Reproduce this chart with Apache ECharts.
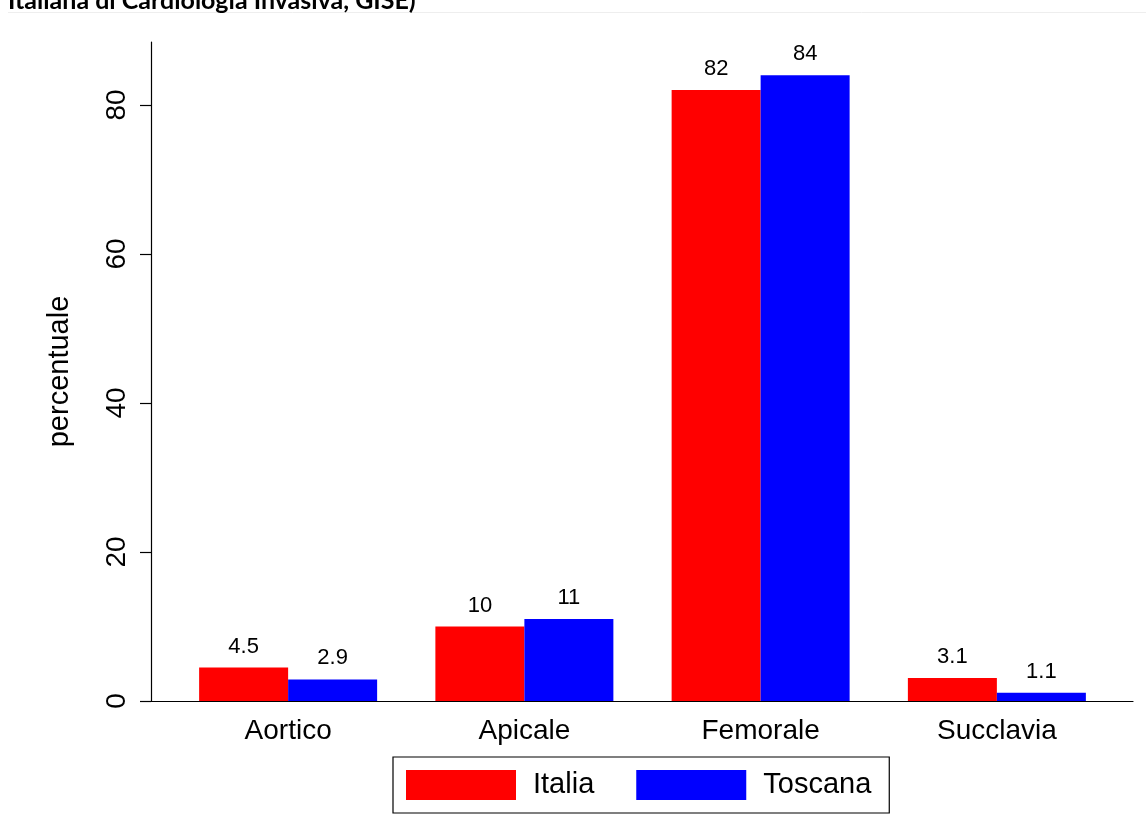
<!DOCTYPE html>
<html>
<head>
<meta charset="utf-8">
<script src="https://cdn.jsdelivr.net/npm/echarts@6/dist/echarts.min.js"></script>
<style>
  html, body { margin: 0; padding: 0; background: #fff; }
  #chart { width: 1146px; height: 840px; }
</style>
</head>
<body>
<div id="chart"></div>
<script>
// Accesso utilizzato per TAVI: Italia vs Toscana (percentuali)
const categories = ['Aortico', 'Apicale', 'Femorale', 'Succlavia'];
const italia = [4.5, 10, 82, 3.1];
const toscana = [2.9, 11, 84, 1.1];
const yTicks = [0, 20, 40, 60, 80];
const titleText = 'Italiana di Cardiologia Invasiva, GISE)';

const FONT = '"Liberation Sans", Arial, Helvetica, sans-serif';

const chart = echarts.init(document.getElementById('chart'), null, { renderer: 'canvas' });

const barLabel = {
  show: true,
  position: 'top',
  distance: 10,
  color: '#000',
  fontFamily: FONT,
  fontSize: 22
};

chart.setOption({
  backgroundColor: '#fff',
  animation: false,
  title: {
    text: titleText,
    left: 2,
    top: -12,
    padding: [0, 0, 0, 6],
    textStyle: { fontFamily: 'Lato, "Open Sans", sans-serif', fontWeight: 'bold', fontSize: 25, color: '#000' }
  },
  graphic: [{
    type: 'line',
    shape: { x1: 8, y1: 12.5, x2: 1146, y2: 12.5 },
    style: { stroke: '#eeeeee', lineWidth: 1 }
  }],
  legend: {
    data: ['Italia', 'Toscana'],
    left: 393,
    top: 757,
    orient: 'horizontal',
    padding: [13, 18, 13, 13],
    itemWidth: 110,
    itemHeight: 30,
    itemGap: 42,
    borderColor: '#000',
    borderWidth: 1.2,
    backgroundColor: '#fff',
    icon: 'rect',
    textStyle: { fontFamily: FONT, fontSize: 29, color: '#000', padding: [0, 0, 0, 12] }
  },
  grid: [
    { left: 170, right: 31, top: 42, bottom: 139 },
    { left: 151, right: 13, top: 42, bottom: 139 }
  ],
  xAxis: [
    {
      type: 'category',
      gridIndex: 0,
      data: categories,
      axisLine: { show: false },
      axisTick: { show: false },
      axisLabel: { color: '#000', fontFamily: FONT, fontSize: 28, margin: 16 }
    },
    {
      type: 'value',
      gridIndex: 1,
      min: 0,
      max: 1,
      axisLine: { show: true, onZero: false, lineStyle: { color: '#000', width: 1.2 } },
      axisTick: { show: false },
      axisLabel: { show: false },
      splitLine: { show: false }
    }
  ],
  yAxis: [
    {
      type: 'value',
      gridIndex: 0,
      min: 0,
      max: 88.45,
      interval: 20,
      offset: 19,
      name: 'percentuale',
      nameLocation: 'middle',
      nameGap: 77,
      nameRotate: 90,
      nameTextStyle: { color: '#000', fontFamily: FONT, fontSize: 29 },
      axisLine: { show: true, lineStyle: { color: '#000', width: 1.2 } },
      axisTick: { show: true, length: 11, customValues: yTicks, lineStyle: { color: '#000', width: 1.2 } },
      axisLabel: {
        customValues: yTicks,
        rotate: 90,
        margin: 20,
        color: '#000',
        fontFamily: FONT,
        fontSize: 28
      },
      splitLine: { show: false }
    },
    { type: 'value', gridIndex: 1, show: false, min: 0, max: 1 }
  ],
  series: [
    {
      name: 'Italia',
      type: 'bar',
      xAxisIndex: 0,
      yAxisIndex: 0,
      data: italia,
      barWidth: 89,
      barGap: '0%',
      itemStyle: { color: '#ff0000' },
      label: barLabel
    },
    {
      name: 'Toscana',
      type: 'bar',
      xAxisIndex: 0,
      yAxisIndex: 0,
      data: toscana,
      barWidth: 89,
      barGap: '0%',
      itemStyle: { color: '#0000ff' },
      label: barLabel
    }
  ]
});
</script>
</body>
</html>
